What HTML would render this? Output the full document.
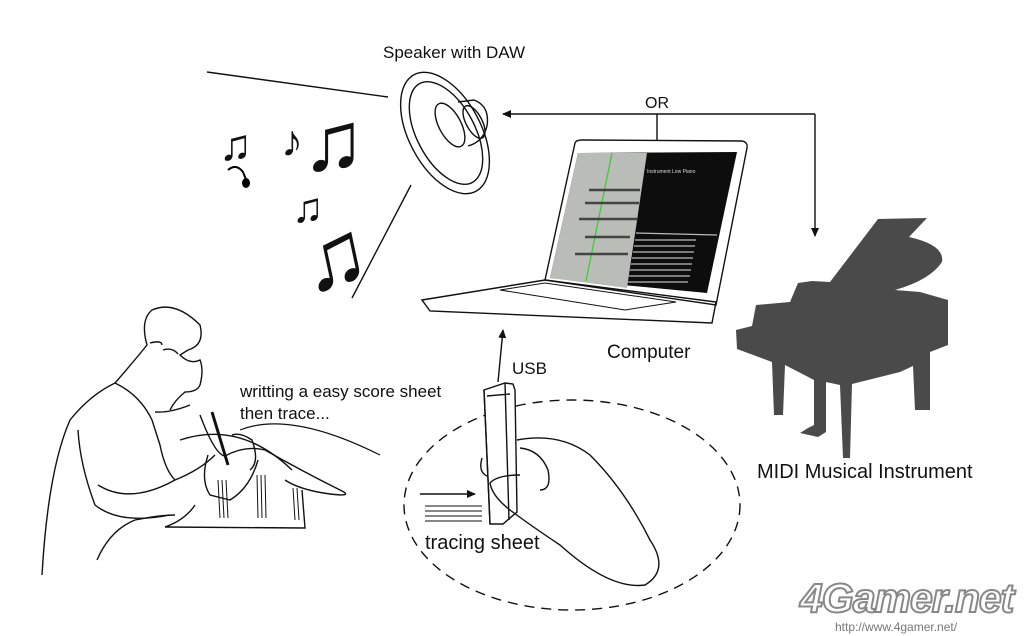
<!DOCTYPE html>
<html><head><meta charset="utf-8"><style>
html,body{margin:0;padding:0;background:#fff}
svg{display:block}
text{font-family:"Liberation Sans","DejaVu Sans",sans-serif;fill:#111}
</style></head><body>
<svg width="1024" height="636" viewBox="0 0 1024 636" xmlns="http://www.w3.org/2000/svg">
<defs><marker id="ah" markerWidth="10" markerHeight="10" refX="8" refY="4" orient="auto" markerUnits="userSpaceOnUse"><path d="M0,0 L9,4 L0,8 Z" fill="#111"/></marker></defs>
<g fill="none" stroke="#111" stroke-width="1.4">
<line x1="207" y1="72" x2="388" y2="97"/>
<line x1="352" y1="298" x2="411" y2="185"/>
<ellipse cx="445" cy="133" rx="36" ry="66" transform="rotate(-28 445 133)"/>
<ellipse cx="446" cy="133" rx="29" ry="56" transform="rotate(-28 446 133)"/>
<ellipse cx="450" cy="125" rx="11" ry="24" transform="rotate(-28 450 125)"/>
<path d="M458,102 L474,100 Q490,106 487,126 Q483,142 468,146"/>
<ellipse cx="474" cy="122" rx="8" ry="18" transform="rotate(-28 474 122)"/>
<line x1="657" y1="114" x2="657" y2="140"/>
<line x1="815" y1="114" x2="503" y2="114" marker-end="url(#ah)"/>
<line x1="815" y1="114" x2="815" y2="236" marker-end="url(#ah)"/>
<line x1="498" y1="382" x2="503" y2="330" marker-end="url(#ah)"/>
<path d="M575,143 Q576,140 582,140 L742,141 Q748,142 747,148 L716,305 L545,280 Z"/>
<path d="M422,300 L545,280 L716,302 L712,323 L430,311 Z"/>
<path d="M500,290 L545,283 L676,302 L625,310 Z" stroke-width="1"/>
<ellipse cx="572" cy="505" rx="168" ry="105" stroke-dasharray="10 7"/>
<line x1="420" y1="494" x2="475" y2="494" marker-end="url(#ah)"/>
<g stroke-width="1"><line x1="425" y1="506" x2="482" y2="506"/><line x1="425" y1="511" x2="482" y2="511"/><line x1="425" y1="516" x2="482" y2="516"/><line x1="425" y1="521" x2="482" y2="521"/></g>
<path d="M484,390 L505,383 L513,384 L515,390 L517,512 L503,524 L490,524 Z" fill="#fff"/>
<path d="M484,390 L490,524 M505,383 L509,520 M487,396 L510,394"/>
<path d="M517,440 Q560,432 590,455 Q625,490 650,540 Q670,570 645,585 Q610,590 560,545 Q530,525 510,510 Q492,496 490,483 Q497,475 520,475"/>
<path d="M520,448 Q540,450 548,470 Q552,490 540,490"/>
<path d="M482,458 Q478,472 487,476"/>
<path d="M42,575 Q48,470 70,420 Q90,395 115,383 Q135,360 147,345 Q140,320 152,310 Q175,300 200,325 Q205,345 188,350 L180,355 Q190,365 200,360 Q204,370 200,385 Q197,392 185,392 Q175,400 170,410"/>
<path d="M150,343 Q162,340 162,345 M163,350 Q172,347 178,354"/>
<path d="M115,383 Q140,395 152,420 L160,445"/>
<path d="M155,412 Q170,413 190,405"/>
<path d="M78,430 Q80,465 95,505 Q120,525 170,515"/>
<path d="M98,485 Q130,505 175,480 Q200,470 215,455"/>
<path d="M160,445 Q165,470 175,480"/>
<path d="M97,560 Q110,530 135,520 Q160,515 175,515"/>
<path d="M200,415 Q215,455 225,456 Q245,445 265,450 Q300,470 340,490 Q355,497 330,494 Q300,490 285,480"/>
<path d="M232,435 Q240,432 252,440 Q260,462 250,470"/>
<path d="M180,440 Q240,420 292,470"/>
<path d="M240,430 Q290,410 380,455" stroke-width="1.2"/>
<path d="M208,455 Q200,480 210,495 L230,500 Q250,488 258,460"/>
<path d="M195,505 Q185,520 165,527 L305,528 L302,490"/>
<path d="M212,412 L228,465" stroke-width="3"/>
<g stroke-width="1"><path d="M218,480 L220,518 M222,480 L224,518 M226,480 L228,518"/><path d="M257,475 L258,518 M261,475 L262,518 M265,475 L266,518"/><path d="M293,488 L295,520 M297,488 L299,520"/></g>
</g>
<path d="M578,153 L737,152 L707,293 L550,278 Z" fill="#0d0d0d"/>
<path d="M578,153 L647,153 L627,288 L550,278 Z" fill="#b9bcb7"/>
<line x1="612" y1="153" x2="586" y2="281" stroke="#3c3" stroke-width="1.2"/>
<g stroke="#444" stroke-width="2.5" fill="none"><path d="M589,190 L640,190"/><path d="M585,203 L639,203"/><path d="M579,219 L637,219"/><path d="M585,237 L630,237"/><path d="M575,254 L628,254"/></g>
<g stroke="#bbb" stroke-width="1.3"><line x1="636" y1="233" x2="717" y2="235"/><line x1="635" y1="240" x2="696" y2="240"/><line x1="634" y1="246" x2="695" y2="246"/><line x1="633" y1="252" x2="694" y2="252"/><line x1="632" y1="258" x2="693" y2="258"/><line x1="631" y1="264" x2="692" y2="264"/><line x1="630" y1="270" x2="691" y2="270"/><line x1="629" y1="276" x2="690" y2="276"/><line x1="628" y1="282" x2="688" y2="282"/></g>
<text x="647" y="173" font-size="5" style="fill:#ddd">Instrument    Low Piano</text>
<path d="M878,219 L927,218 L909,237 Q945,245 942,262 Q930,280 895,290 L920,292 L948,300 L948,345 L930,352 L930,410 L915,410 L913,366 L900,372 L852,384 L850,458 L843,458 L840,385 L826,382 L826,432 L818,437 L800,433 L808,428 L814,425 L814,380 L785,365 L783,415 L774,415 L772,362 L737,349 L736,330 L752,326 L756,305 L790,302 L798,283 L812,281 L830,282 Z" fill="#4a4a4a"/>
<g style="font-family:'DejaVu Sans',sans-serif" fill="#000">
<text x="219" y="160" font-size="44">♫</text>
<text x="281" y="156" font-size="44">♪</text>
<text x="302" y="170" font-size="84">♫</text>
<text x="292" y="222" font-size="42">♫</text>
<text x="300" y="288" font-size="90" transform="rotate(-12 328 255)">♫</text>
</g>
<path d="M228,170 Q236,163 243,172 L247,182" stroke="#000" stroke-width="2" fill="none"/>
<ellipse cx="246" cy="183" rx="4" ry="5" fill="#000"/>
<text x="383" y="58" font-size="17">Speaker with DAW</text>
<text x="645" y="108" font-size="16">OR</text>
<text x="607" y="358" font-size="19">Computer</text>
<text x="512" y="374" font-size="17">USB</text>
<text x="240" y="397" font-size="17">writting a easy score sheet</text>
<text x="240" y="419" font-size="17">then trace...</text>
<text x="425" y="549" font-size="20">tracing sheet</text>
<text x="757" y="478" font-size="20">MIDI Musical Instrument</text>
<text x="800" y="612" font-size="41" font-weight="bold" font-style="italic" style="fill:#fff;stroke:#888;stroke-width:2" letter-spacing="-1">4Gamer.net</text>
<text x="835" y="631" font-size="12" style="fill:#777">http://www.4gamer.net/</text>
</svg>
</body></html>
